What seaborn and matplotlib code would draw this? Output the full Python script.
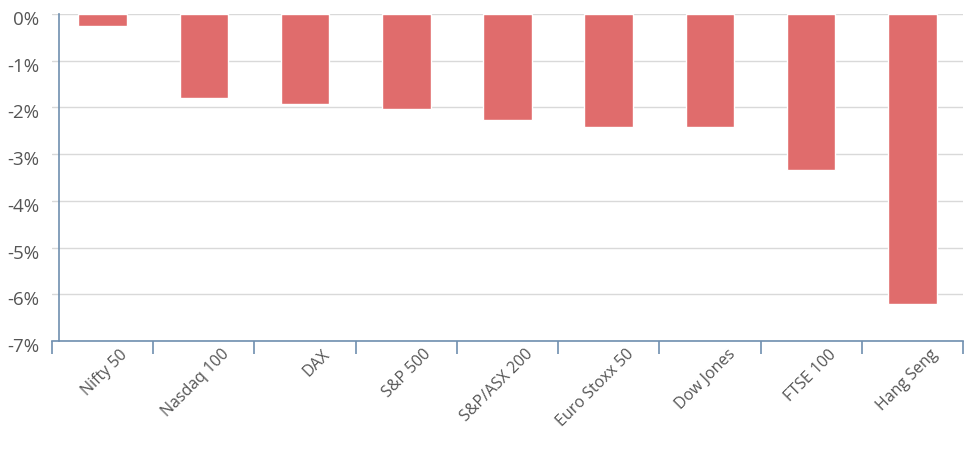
import matplotlib
matplotlib.use("Agg")
import matplotlib.pyplot as plt
import matplotlib.transforms as mtransforms
import seaborn as sns
import pandas as pd
import numpy as np
from matplotlib.ticker import FuncFormatter, FixedLocator

indices = ["Nifty 50", "Nasdaq 100", "DAX", "S&P 500", "S&P/ASX 200",
           "Euro Stoxx 50", "Dow Jones", "FTSE 100", "Hang Seng"]
returns = [-0.26, -1.80, -1.93, -2.03, -2.26, -2.41, -2.41, -3.34, -6.21]
y_ticks = [0, -1, -2, -3, -4, -5, -6, -7]

sns.set_theme(style="white")
plt.rcParams['font.family'] = ['Open Sans', 'DejaVu Sans']

df = pd.DataFrame({"index": indices, "ret": returns})

fig = plt.figure(figsize=(9.73, 4.53), dpi=100)
ax = fig.add_axes([52/973, 1 - 341/453, (963-52)/973, (341-14)/453])

sns.barplot(data=df, x="index", y="ret", color="#E06C6C", saturation=1,
            width=0.48, ax=ax, zorder=3)

ax.set_ylim(-7, 0)
ax.set_xlim(-0.5, len(indices) - 0.5)
ax.yaxis.set_major_locator(FixedLocator(y_ticks))
ax.yaxis.set_major_formatter(FuncFormatter(lambda v, p: f"{int(round(v))}%"))
ax.grid(axis="y", color="#D9D9D9", linewidth=1, zorder=0)
ax.set_axisbelow(True)

for s in ["top", "right"]:
    ax.spines[s].set_visible(False)
ax.spines["left"].set_position(("axes", 7/911))
ax.spines["left"].set_color("#6F8FAF")
ax.spines["left"].set_linewidth(1.2)
ax.spines["bottom"].set_color("#6F8FAF")
ax.spines["bottom"].set_linewidth(1.2)

ax.set_xlabel("")
ax.set_ylabel("")
ax.tick_params(axis="y", left=False, length=0, pad=14, labelcolor="#555555")
ax.tick_params(axis="x", which="major", bottom=False, length=0, pad=4,
               labelcolor="#555555")
ax.set_xticks(np.arange(-0.5, len(indices) + 0.5, 1), minor=True)
ax.tick_params(axis="x", which="minor", bottom=True, length=9, width=1.2,
               color="#6F8FAF", direction="out")
for lab in ax.get_yticklabels():
    lab.set_fontsize(13.5)
    lab.set_transform(lab.get_transform() + mtransforms.ScaledTranslation(
        0, -4/100, fig.dpi_scale_trans))
for lab in ax.get_xticklabels():
    lab.set_fontsize(11.5)
    lab.set_rotation(45)
    lab.set_ha("right")
    lab.set_va("top")
    lab.set_rotation_mode("anchor")
    lab.set_transform(lab.get_transform() + mtransforms.ScaledTranslation(
        17/100, 0/100, fig.dpi_scale_trans))

fig.savefig("out.png", dpi=100, facecolor="white")
